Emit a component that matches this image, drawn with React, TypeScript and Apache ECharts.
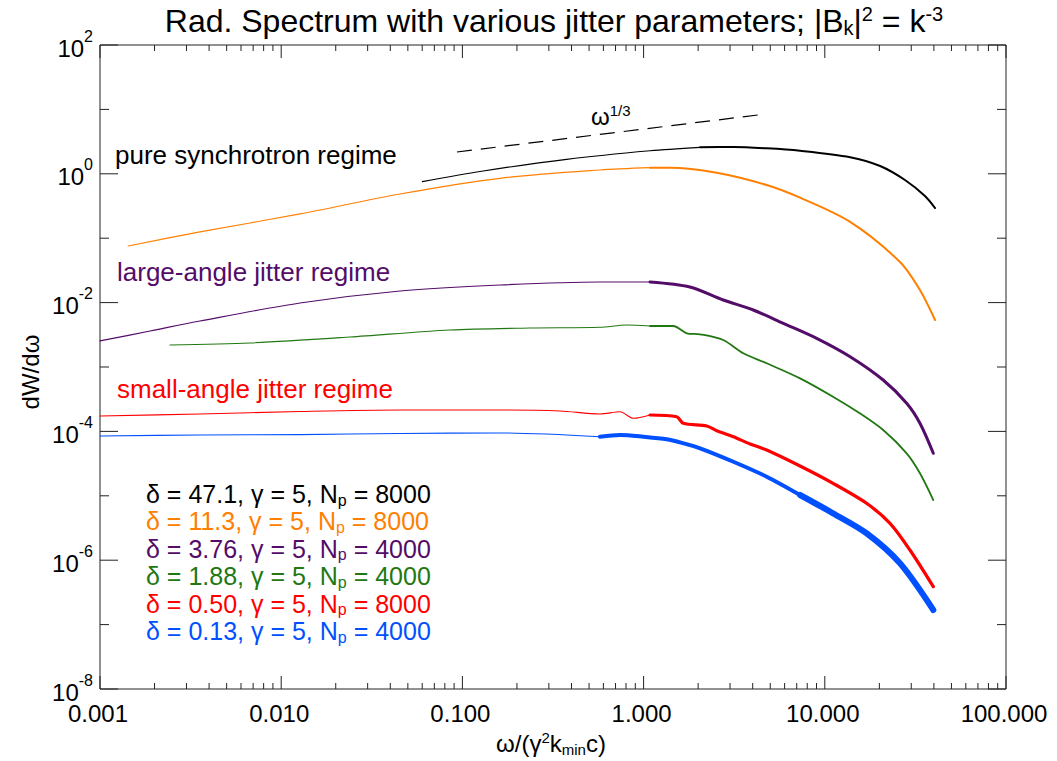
import React, { useEffect, useRef } from 'react';
import * as echarts from 'echarts';

// ---------- data ----------
const blackData = [[0.0601,0.754],[0.1304,1.105],[0.376,1.68],[1.085,2.28],[2.05,2.58],[3.13,2.61],[4.78,2.49],[7.3,2.28],[13.8,1.81],[20.2,1.32],[27.7,0.80],[35.7,0.452],[40.6,0.294]];
const orangeData = [[0.00143,0.0757],[0.00356,0.125],[0.0127,0.238],[0.0453,0.486],[0.161,0.851],[0.574,1.146],[1.085,1.243],[1.40,1.243],[2.53,1.04],[4.78,0.67],[7.3,0.426],[13.8,0.179],[26,0.0427],[33.5,0.0157],[40.6,0.00537]];
const purpleData = [[0.001,0.00254],[0.00189,0.00362],[0.00356,0.00518],[0.0127,0.00986],[0.0453,0.01514],[0.161,0.01876],[0.574,0.0209],[1.085,0.0209],[1.80,0.01747],[2.75,0.01098],[4.03,0.00768],[5.90,0.00477],[9.02,0.00279],[13.8,0.001445],[21.0,0.000628],[28.3,0.000273],[33.5,0.0001336],[39.7,4.57e-5]];
const greenData = [[0.002433,0.002196],[0.00673,0.00236],[0.02397,0.00292],[0.0854,0.003754],[0.236,0.004033],[0.574,0.004135],[0.807,0.00449],[1.085,0.00433],[1.458,0.00433],[1.73,0.00334],[2.05,0.00322],[2.75,0.002627],[3.55,0.001632],[4.78,0.001142],[7.3,0.000667],[11.1,0.000346],[15.6,0.000191],[21.0,0.000105],[28.3,4.57e-5],[33.5,2.24e-5],[39.7,8.6e-6]];
const redData = [[0.001,0.0001734],[0.00356,0.0001863],[0.0127,0.0002037],[0.0453,0.000215],[0.161,0.000215],[0.3456,0.0002074],[0.574,0.0001863],[0.741,0.000202],[0.877,0.0001597],[1.085,0.0001798],[1.523,0.0001692],[1.656,0.0001336],[2.23,0.0001213],[2.53,0.0001025],[3.13,8.27e-5],[3.87,6.37e-5],[4.78,5.14e-5],[7.3,2.90e-5],[11.1,1.563e-5],[17.0,7.65e-6],[22.9,3.74e-6],[29.5,1.44e-6],[39.7,3.88e-7]];
const blueData = [[0.001,8.49e-5],[0.00356,8.79e-5],[0.0127,8.92e-5],[0.0453,9.28e-5],[0.161,9.45e-5],[0.574,8.27e-5],[0.741,8.79e-5],[0.996,8.27e-5],[1.341,7.54e-5],[1.656,6.53e-5],[2.05,5.46e-5],[3.13,3.38e-5],[4.78,1.98e-5],[7.3,1.029e-5],[11.1,5.35e-6],[17.0,2.62e-6],[26.0,8.95e-7],[39.7,1.686e-7]];
const omegaThirdLine = [[0.0933,2.18],[4.73,8.48]];

const xMajorTicks = [0.001, 0.01, 0.1, 1, 10, 100];
const xTickLabels = ['0.001', '0.010', '0.100', '1.000', '10.000', '100.000'];
const xMinorMultipliers = [2, 3, 4, 5, 6, 7, 8, 9];
const yMajorExponents = [-8, -6, -4, -2, 0, 2];
const yMinorExponents = [-7, -5, -3, -1, 1];

const legendDelta = ['47.1', '11.3', '3.76', '1.88', '0.50', '0.13'];
const legendGamma = ['5', '5', '5', '5', '5', '5'];
const legendNp = ['8000', '8000', '4000', '4000', '8000', '4000'];

// ---------- styles ----------
const FONT = '"Liberation Sans", Helvetica, Arial, sans-serif';
const AXIS = '#222';
const C_BLACK = '#000000';
const C_ORANGE = '#ff8000';
const C_PURPLE = '#530c68';
const C_GREEN = '#217812';
const C_RED = '#ff0000';
const C_BLUE = '#0050ff';
const legendColors = [C_BLACK, C_ORANGE, C_PURPLE, C_GREEN, C_RED, C_BLUE];

const curves = [
  { data: blackData, color: C_BLACK, cuts: [2], widths: [1.2, 2] },
  { data: orangeData, color: C_ORANGE, cuts: [1], widths: [1.2, 2] },
  { data: purpleData, color: C_PURPLE, cuts: [1], widths: [1.2, 3] },
  { data: greenData, color: C_GREEN, cuts: [1], widths: [1.1, 1.8] },
  { data: redData, color: C_RED, cuts: [1], widths: [1.1, 3.2] },
  { data: blueData, color: C_BLUE, cuts: [0.5, 6], widths: [1.1, 4, 6] },
];

function segments(data: number[][], cuts: number[]) {
  const segs: number[][][] = [];
  let start = 0;
  for (const c of cuts) {
    const end = data.findIndex((p) => p[0] > c);
    if (end < 0) break;
    segs.push(data.slice(start, end + 1));
    start = end;
  }
  segs.push(data.slice(start));
  return segs;
}

// rich styles: line box height H; base text centred, superscript at top of box, subscript at bottom of box
const lineH = (size: number) => Math.round(0.882 * size + 6);
const richBase = (size: number, color: string) => {
  const small = Math.round(size * 0.62);
  return {
    t: { fontSize: size, fontFamily: FONT, fill: color, lineHeight: lineH(size), verticalAlign: 'middle' },
    sup: { fontSize: small, fontFamily: FONT, fill: color, verticalAlign: 'top' },
    sub: { fontSize: small, fontFamily: FONT, fill: color, verticalAlign: 'bottom' },
  };
};

export default function App() {
  const ref = useRef<HTMLDivElement>(null);
  useEffect(() => {
    if (!ref.current) return;
    const chart = echarts.init(ref.current, null, { renderer: 'svg' });

    const lineSeries: any[] = [];
    curves.forEach((c) => {
      segments(c.data, c.cuts).forEach((seg, i) => {
        lineSeries.push({
          type: 'line',
          data: seg,
          showSymbol: false,
          symbol: 'none',
          smooth: 0.3,
          silent: true,
          z: 3,
          lineStyle: { color: c.color, width: c.widths[i], join: 'round', cap: 'round' },
        });
      });
    });
    lineSeries.push({
      type: 'line',
      data: omegaThirdLine,
      showSymbol: false,
      symbol: 'none',
      silent: true,
      z: 3,
      lineStyle: { color: '#000', width: 1.2, type: [15, 9] },
    });

    const xTickData: number[][] = [];
    xMajorTicks.forEach((v, i) => {
      xTickData.push([v, 1, 1, i]);
      if (i < xMajorTicks.length - 1) xMinorMultipliers.forEach((m) => xTickData.push([v * m, 1, 0, -1]));
    });
    const yTickData: number[][] = [];
    yMajorExponents.forEach((e) => yTickData.push([1, Math.pow(10, e), 1, e]));
    yMinorExponents.forEach((e) => yTickData.push([1, Math.pow(10, e), 0, e]));

    const xTickSeries = {
      type: 'custom',
      silent: true,
      clip: false,
      z: 6,
      data: xTickData,
      encode: { x: 0, y: 1 },
      renderItem: (params: any, api: any) => {
        const cs = params.coordSys;
        const v = api.value(0);
        const major = api.value(2) === 1;
        const idx = api.value(3);
        const px = api.coord([v, 1])[0];
        const top = cs.y;
        const bottom = cs.y + cs.height;
        const len = major ? 13 : 6;
        const children: any[] = [
          { type: 'line', shape: { x1: px, y1: bottom, x2: px, y2: bottom - len }, style: { stroke: AXIS, lineWidth: 1 } },
          { type: 'line', shape: { x1: px, y1: top, x2: px, y2: top + len }, style: { stroke: AXIS, lineWidth: 1 } },
        ];
        if (major) {
          children.push({
            type: 'text',
            x: px - 2,
            y: bottom + 24,
            style: { text: xTickLabels[idx], fontSize: 24, fontFamily: FONT, fill: '#000', align: 'center', verticalAlign: 'middle' },
          });
        }
        return { type: 'group', children };
      },
    };

    const yTickSeries = {
      type: 'custom',
      silent: true,
      clip: false,
      z: 6,
      data: yTickData,
      encode: { x: 0, y: 1 },
      renderItem: (params: any, api: any) => {
        const cs = params.coordSys;
        const v = api.value(1);
        const major = api.value(2) === 1;
        const e = api.value(3);
        const py = api.coord([1, v])[1];
        const left = cs.x;
        const right = cs.x + cs.width;
        const len = major ? 18 : 9;
        const children: any[] = [
          { type: 'line', shape: { x1: left, y1: py, x2: left + len, y2: py }, style: { stroke: AXIS, lineWidth: 1 } },
          { type: 'line', shape: { x1: right, y1: py, x2: right - len, y2: py }, style: { stroke: AXIS, lineWidth: 1 } },
        ];
        if (major) {
          children.push({
            type: 'text',
            x: left - 7,
            y: py - 1,
            style: {
              text: `{b|10}{s|${e}}`,
              align: 'right',
              verticalAlign: 'middle',
              rich: {
                b: { fontSize: 24, fontFamily: FONT, fill: '#000', lineHeight: 32, verticalAlign: 'bottom' },
                s: { fontSize: 16, fontFamily: FONT, fill: '#000', lineHeight: 16, verticalAlign: 'top' },
              },
            },
          });
        }
        return { type: 'group', children };
      },
    };

    const legendTexts = legendDelta.map((d, i) => ({
      type: 'text',
      x: 146,
      y: 494 + i * 27.4,
      style: {
        text: `{t|δ = ${d}, γ = ${legendGamma[i]}, N}{sub|p}{t| = ${legendNp[i]}}`,
        align: 'left',
        verticalAlign: 'middle',
        rich: richBase(25, legendColors[i]),
      },
    }));

    const graphics: any[] = [
      {
        type: 'text',
        x: 554,
        y: 21,
        style: {
          text: '{t|Rad. Spectrum with various jitter parameters; |B}{sub|k}{t||}{sup|2}{t| = k}{sup|-3}',
          align: 'center',
          verticalAlign: 'middle',
          rich: richBase(32, '#000'),
        },
      },
      {
        type: 'text',
        x: 551,
        y: 743,
        style: {
          text: '{t|ω/(γ}{sup|2}{t|k}{sub|min}{t|c)}',
          align: 'center',
          verticalAlign: 'middle',
          rich: richBase(24, '#000'),
        },
      },
      {
        type: 'text',
        x: 30,
        y: 372,
        rotation: Math.PI / 2,
        style: { text: 'dW/dω', fontSize: 24, fontFamily: FONT, fill: '#000', align: 'center', verticalAlign: 'middle' },
      },
      {
        type: 'text',
        x: 115,
        y: 155,
        style: { text: 'pure synchrotron regime', fontSize: 26, fontFamily: FONT, fill: C_BLACK, verticalAlign: 'middle' },
      },
      {
        type: 'text',
        x: 117,
        y: 272,
        style: { text: 'large-angle jitter regime', fontSize: 26, fontFamily: FONT, fill: C_PURPLE, verticalAlign: 'middle' },
      },
      {
        type: 'text',
        x: 117,
        y: 389,
        style: { text: 'small-angle jitter regime', fontSize: 26, fontFamily: FONT, fill: C_RED, verticalAlign: 'middle' },
      },
      {
        type: 'text',
        x: 591,
        y: 116,
        style: {
          text: '{t|ω}{sup|1/3}',
          align: 'left',
          verticalAlign: 'middle',
          rich: richBase(24, '#000'),
        },
      },
      ...legendTexts,
    ];

    chart.setOption({
      animation: false,
      backgroundColor: '#ffffff',
      grid: { left: 100, top: 45, width: 906, height: 644, show: true, borderColor: AXIS, borderWidth: 1, backgroundColor: 'transparent' },
      xAxis: { type: 'log', logBase: 10, min: 0.001, max: 100, show: false },
      yAxis: { type: 'log', logBase: 10, min: 1e-8, max: 100, show: false },
      series: [...lineSeries, xTickSeries, yTickSeries],
      graphic: graphics,
    });
    return () => chart.dispose();
  }, []);
  return <div ref={ref} style={{ position: 'fixed', left: 0, top: 0, width: 1057, height: 761, background: '#fff' }} />;
}
